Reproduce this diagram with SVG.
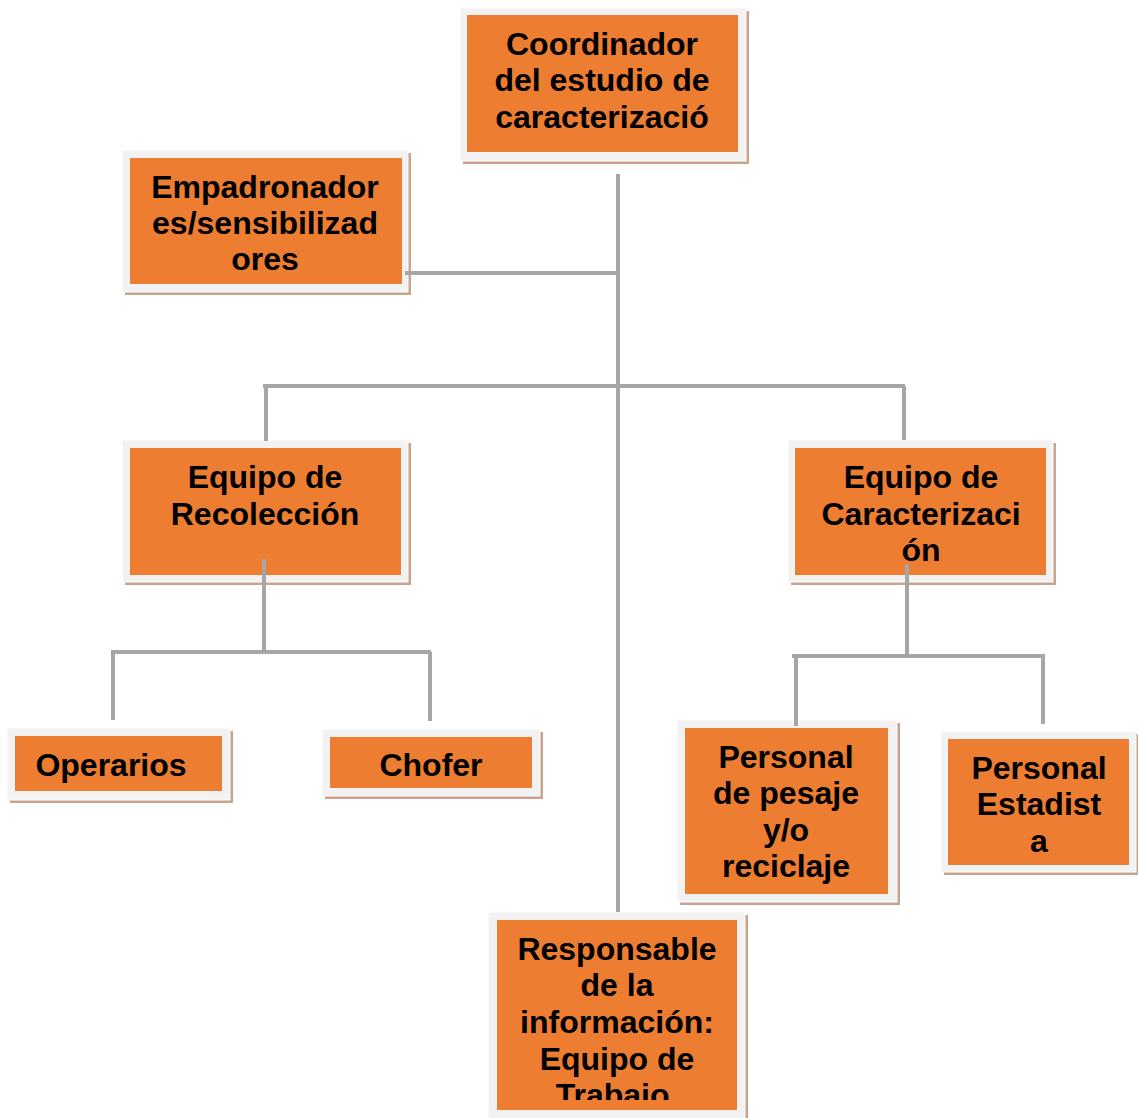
<svg xmlns="http://www.w3.org/2000/svg" width="1138" height="1118" viewBox="0 0 1138 1118">
<style>
.sh{fill:#C9A38B}
.fr{fill:#F2F2F2;stroke:#FFFFFF;stroke-width:1}
.or{fill:#ED7D31}
.t{font-family:"Liberation Sans",Arial,sans-serif;font-weight:bold;font-size:32px;fill:#000;text-anchor:middle}
.c{fill:none;stroke:#A6A6A6;stroke-width:4}
</style>
<defs><clipPath id="clipResp"><rect x="497" y="920" width="240" height="180"/></clipPath></defs>
<rect width="1138" height="1118" fill="#FFFFFF"/>
<g id="coordinador">
<rect class="sh" x="463" y="11" width="286" height="153"/>
<rect class="fr" x="460" y="8" width="286" height="153"/>
<rect class="or" x="467" y="15" width="271" height="137"/>
<text class="t" x="602" y="55">Coordinador</text>
<text class="t" x="602" y="91">del estudio de</text>
<text class="t" x="602" y="128">caracterizació</text>
</g>
<g id="empadronador">
<rect class="sh" x="125" y="153" width="286" height="142"/>
<rect class="fr" x="122" y="150" width="286" height="142"/>
<rect class="or" x="130" y="158" width="272" height="126"/>
<text class="t" x="265" y="198">Empadronador</text>
<text class="t" x="265" y="234">es/sensibilizad</text>
<text class="t" x="265" y="270">ores</text>
</g>
<g id="recoleccion">
<rect class="sh" x="125" y="443" width="286" height="142"/>
<rect class="fr" x="122" y="440" width="286" height="142"/>
<rect class="or" x="130" y="448" width="271" height="127"/>
<text class="t" x="265" y="488">Equipo de</text>
<text class="t" x="265" y="525">Recolección</text>
</g>
<g id="caracterizacion">
<rect class="sh" x="791" y="443" width="265" height="142"/>
<rect class="fr" x="788" y="440" width="265" height="142"/>
<rect class="or" x="795" y="448" width="251" height="127"/>
<text class="t" x="921" y="488">Equipo de</text>
<text class="t" x="921" y="525">Caracterizaci</text>
<text class="t" x="921" y="561">ón</text>
</g>
<g id="operarios">
<rect class="sh" x="10" y="731" width="223" height="72"/>
<rect class="fr" x="7" y="728" width="223" height="72"/>
<rect class="or" x="15" y="736" width="207" height="55"/>
<text class="t" x="111" y="776">Operarios</text>
</g>
<g id="chofer">
<rect class="sh" x="325" y="732" width="218" height="67"/>
<rect class="fr" x="322" y="729" width="218" height="67"/>
<rect class="or" x="330" y="737" width="202" height="51"/>
<text class="t" x="431" y="776">Chofer</text>
</g>
<g id="pesaje">
<rect class="sh" x="680" y="723" width="220" height="182"/>
<rect class="fr" x="677" y="720" width="220" height="182"/>
<rect class="or" x="685" y="728" width="203" height="166"/>
<text class="t" x="786" y="768">Personal</text>
<text class="t" x="786" y="804">de pesaje</text>
<text class="t" x="786" y="841">y/o</text>
<text class="t" x="786" y="877">reciclaje</text>
</g>
<g id="estadista">
<rect class="sh" x="944" y="734" width="195" height="141"/>
<rect class="fr" x="941" y="731" width="195" height="141"/>
<rect class="or" x="948" y="739" width="181" height="126"/>
<text class="t" x="1039" y="779">Personal</text>
<text class="t" x="1039" y="815">Estadist</text>
<text class="t" x="1039" y="852">a</text>
</g>
<g id="responsable">
<rect class="sh" x="491" y="915" width="257" height="210"/>
<rect class="fr" x="488" y="912" width="257" height="210"/>
<rect class="or" x="497" y="920" width="240" height="190"/>
<g clip-path="url(#clipResp)">
<text class="t" x="617" y="960">Responsable</text>
<text class="t" x="617" y="996">de la</text>
<text class="t" x="617" y="1033">información:</text>
<text class="t" x="617" y="1070">Equipo de</text>
<text class="t" x="617" y="1106">Trabajo.</text>
</g>
</g>
<g id="connectors">
<path class="c" d="M618,174 V912"/>
<path class="c" d="M405,273 H618"/>
<path class="c" d="M263,386 H905"/>
<path class="c" d="M266,386 V441"/>
<path class="c" d="M904,386 V440"/>
<path class="c" d="M264,559 V652"/>
<path class="c" d="M111,652 H431"/>
<path class="c" d="M113,652 V720"/>
<path class="c" d="M430,652 V721"/>
<path class="c" d="M907,564 V656"/>
<path class="c" d="M792,656 H1045"/>
<path class="c" d="M796,656 V726"/>
<path class="c" d="M1043,654 V724"/>
</g>
</svg>
